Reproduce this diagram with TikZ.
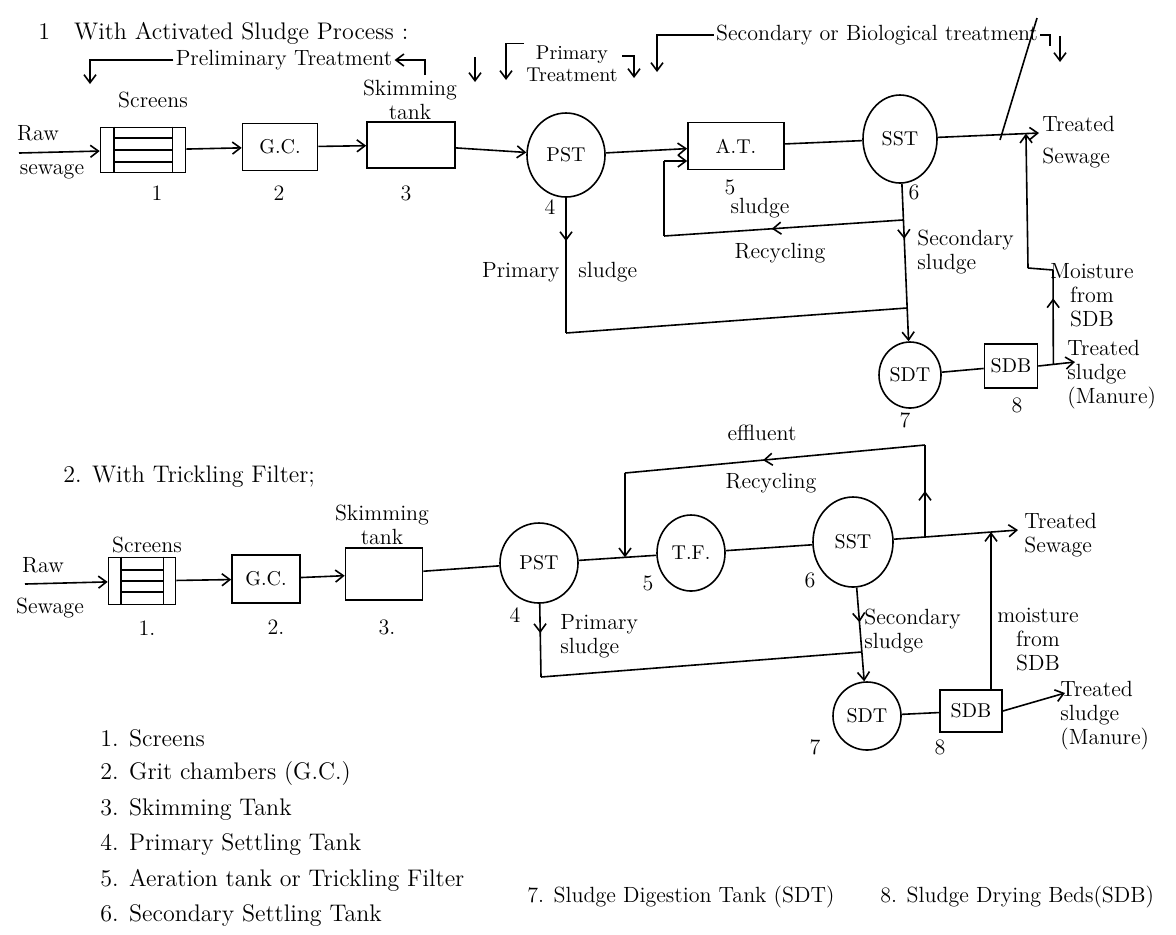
\documentclass[tikz,border=0pt]{standalone}
\usepackage{tikz}
\usetikzlibrary{arrows.meta,calc,positioning,shapes.geometric,decorations.markings}
\tikzset{
  swbox/.style={draw, line width=0.8pt, inner sep=1pt, font=\fontsize{10}{11}\selectfont},
  swtank/.style={draw, ellipse, line width=0.8pt, inner sep=0pt, font=\fontsize{10}{11}\selectfont},
  swtext/.style={inner sep=1pt, align=center, font=\fontsize{11}{12}\selectfont},
  swtitle/.style={inner sep=1pt, anchor=west, font=\fontsize{12}{14}\selectfont},
  swlegend/.style={inner sep=1pt, anchor=west, font=\fontsize{11}{12}\selectfont},
  swline/.style={line width=0.8pt},
  swarrow/.style={-{Straight Barb[length=4pt,width=6pt]}, line width=0.8pt},
  swmid/.style={postaction={decorate}, decoration={markings, mark=at position #1 with {\arrow{Straight Barb[length=4pt,width=6pt]}}}}
}
\begin{document}
\begin{tikzpicture}[x=0.5pt,y=-0.5pt]
  \useasboundingbox (0,0) rectangle (1176,934);
  % 1. activated sludge process
  \node[swtitle] (t1) at (36,33) {1\quad With Activated Sludge Process :};
  \node[swtext] (prel) at (284,60) {Preliminary Treatment};
  \coordinate (prelLd) at (90,84);
  \coordinate (prelRd) at (425,75);
  \coordinate (prelEa) at (475,57);
  \coordinate (prelEb) at (475,82);
  \draw[swarrow] (prel.west) -| (prelLd);
  \draw[swarrow] (prelRd) |- (prel.east);
  \draw[swarrow] (prelEa) -- (prelEb);
  \node[swtext, font=\fontsize{10}{11}\selectfont] (prim) at (572,64) {Primary\\Treatment};
  \coordinate (primLd) at (506,80);
  \coordinate (primRt) at (622,56);
  \coordinate (primRd) at (634,78);
  \draw[swarrow] (prim.north west) -| (primLd);
  \draw[swarrow] (primRt) -| (primRd);
  \node[swtext] (secn) at (877,35) {Secondary or Biological treatment};
  \coordinate (secLd) at (657,72);
  \coordinate (secRb) at (1050,46);
  \coordinate (secEa) at (1060,36);
  \coordinate (secEb) at (1060,62);
  \draw[swarrow] (secn.west) -| (secLd);
  \draw[swline] (secn.east) -| (secRb);
  \draw[swarrow] (secEa) -- (secEb);
  \coordinate (diagA) at (1037,18);
  \coordinate (diagB) at (1000,140);
  \draw[swline] (diagA) -- (diagB);

  \node[swbox, minimum width=42.5pt, minimum height=22.5pt] (scr1) at (143,150) {};
  \node[swbox, minimum width=37.5pt, minimum height=23.5pt] (gc1) at (280,147) {G.C.};
  \node[swbox, minimum width=44pt, minimum height=23pt] (sk1) at (411,145) {};
  \node[swtank, minimum width=39pt, minimum height=42pt] (pst1) at (566,155) {PST};
  \node[swbox, minimum width=48pt, minimum height=23.5pt] (at1) at (736,146) {A.T.};
  \node[swtank, minimum width=37pt, minimum height=44pt] (sst1) at (900,139) {SST};
  \node[swtank, minimum width=31pt, minimum height=33pt] (sdt1) at (910,375) {SDT};
  \node[swbox, minimum width=26.5pt, minimum height=22pt] (sdb1) at (1011,366) {SDB};

  \node[swtext] (raw1) at (38,133) {Raw};
  \node[swtext] (sew1) at (52,172) {sewage};
  \node[swtext] (scrl1) at (153,100) {Screens};
  \node[swtext] (skl1) at (410,100) {Skimming\\tank};
  \node[swtext] (n1a) at (157,193) {1};
  \node[swtext] (n2a) at (279,193) {2};
  \node[swtext] (n3a) at (406,193) {3};
  \node[swtext] (n4a) at (550,207) {4};
  \node[swtext] (n5a) at (730,187) {5};
  \node[swtext] (n6a) at (914,192) {6};
  \node[swtext] (n7a) at (905,420) {7};
  \node[swtext] (n8a) at (1017,405) {8};
  \node[swtext, anchor=west, align=left] (ts1l) at (1040,142) {Treated\\[4pt]Sewage};
  \node[swtext] (rcl1) at (760,208) {sludge};
  \node[swtext] (rcr1) at (780,253) {Recycling};
  \node[swtext, anchor=east] (psl1) at (562,272) {Primary};
  \node[swtext, anchor=west] (psr1) at (576,272) {sludge};
  \node[swtext, anchor=west, align=left] (ssl1) at (915,252) {Secondary\\sludge};
  \node[swtext] (mol1) at (1092,295) {Moisture\\from\\SDB};
  \node[swtext, anchor=west, align=left] (tsg1) at (1065,375) {Treated\\sludge\\(Manure)};

  \foreach \s in {scr1} {
    \draw[swline] ($(\s.north west)+(14,0)$) -- ($(\s.south west)+(14,0)$);
    \draw[swline] ($(\s.north east)+(-14,0)$) -- ($(\s.south east)+(-14,0)$);
    \foreach \dy in {-12,0,12}
      \draw[swline] ($(\s.west)+(14,\dy)$) -- ($(\s.east)+(-14,\dy)$);
  }

  \coordinate (in1) at (19,153);
  \coordinate (ts1) at (1039,133);
  \coordinate (tsl1) at (1075,362);
  \draw[swarrow] (in1) -- (scr1);
  \draw[swarrow] (scr1) -- (gc1);
  \draw[swarrow] (gc1) -- (sk1);
  \draw[swarrow] (sk1) -- (pst1);
  \draw[swarrow] (pst1) -- (at1);
  \draw[swline] (at1) -- (sst1);
  \draw[swarrow] (sst1) -- (ts1);
  \draw[swarrow, swmid=0.35] (sst1) -- (sdt1);
  % sludge recycling
  \coordinate (rcj1) at ($(sst1)!0.343!(sdt1)$);
  \coordinate (rc1b) at (664,236);
  \coordinate (rc1c) at (664,161);
  \draw[swline, swmid=0.55] (rcj1) -- (rc1b);
  \draw[swline] (rc1b) -- (rc1c);
  \draw[swarrow] (rc1c) -- (rc1c -| at1.west);
  % primary sludge
  \coordinate (ps1c) at (566,333);
  \coordinate (sj1) at ($(sst1)!0.716!(sdt1)$);
  \draw[swline, swmid=0.32] (pst1) -- (ps1c);
  \draw[swline] (ps1c) -- (sj1);
  \draw[swline] (sdt1) -- (sdb1);
  \draw[swarrow] (sdb1.east) -- (tsl1);
  % moisture
  \coordinate (mo1s) at ($(sdb1.east)!0.41!(tsl1)$);
  \coordinate (mo1a) at (1053,270);
  \coordinate (mo1b) at (1028,268);
  \coordinate (mo1t) at ($(sst1)!0.906!(ts1)$);
  \draw[swline, swmid=0.7] (mo1s) -- (mo1a);
  \draw[swline] (mo1a) -- (mo1b);
  \draw[swarrow] (mo1b) -- (mo1t);

  % 2. trickling filter
  \node[swtitle] (t2) at (61,477) {2. With Trickling Filter;};
  \node[swbox, minimum width=33.5pt, minimum height=23.5pt] (scr2) at (142,581) {};
  \node[swbox, minimum width=34pt, minimum height=24pt] (gc2) at (266,579) {G.C.};
  \node[swbox, minimum width=38.5pt, minimum height=26pt] (sk2) at (384,574) {};
  \node[swtank, minimum width=39pt, minimum height=40pt] (pst2) at (539,563) {PST};
  \node[swtank, minimum width=34pt, minimum height=38pt] (tf2) at (691,553) {T.F.};
  \node[swtank, minimum width=40pt, minimum height=45pt] (sst2) at (853,542) {SST};
  \node[swtank, minimum width=34pt, minimum height=34pt] (sdt2) at (867,716) {SDT};
  \node[swbox, minimum width=31pt, minimum height=21pt] (sdb2) at (971,711) {SDB};

  \node[swtext] (raw2) at (43,565) {Raw};
  \node[swtext] (sew2) at (50,608) {Sewage};
  \node[swtext] (scrl2) at (147,545) {Screens};
  \node[swtext] (skl2) at (382,525) {Skimming\\tank};
  \node[swtext] (n1b) at (147,628) {1.};
  \node[swtext] (n2b) at (276,627) {2.};
  \node[swtext] (n3b) at (387,627) {3.};
  \node[swtext] (n4b) at (515,615) {4};
  \node[swtext] (n5b) at (648,583) {5};
  \node[swtext] (n6b) at (810,580) {6};
  \node[swtext] (n7b) at (815,747) {7};
  \node[swtext] (n8b) at (940,747) {8};
  \node[swtext] (effl2) at (762,433) {effluent};
  \node[swtext] (rcr2) at (771,483) {Recycling};
  \node[swtext, anchor=west, align=left] (ts2l) at (1022,535) {Treated\\Sewage};
  \node[swtext, anchor=west, align=left] (psl2) at (558,636) {Primary\\sludge};
  \node[swtext, anchor=west, align=left] (ssl2) at (862,631) {Secondary\\sludge};
  \node[swtext] (mol2) at (1038,640) {moisture\\from\\SDB};
  \node[swtext, anchor=west, align=left] (tsg2) at (1058,716) {Treated\\sludge\\(Manure)};

  \foreach \s in {scr2} {
    \draw[swline] ($(\s.north west)+(13,0)$) -- ($(\s.south west)+(13,0)$);
    \draw[swline] ($(\s.north east)+(-13,0)$) -- ($(\s.south east)+(-13,0)$);
    \foreach \dy in {-11,0,11}
      \draw[swline] ($(\s.west)+(13,\dy)$) -- ($(\s.east)+(-13,\dy)$);
  }

  \coordinate (in2) at (25,584);
  \coordinate (jn2) at (925,537);
  \coordinate (ts2) at (1018,530);
  \coordinate (tsl2) at (1065,693);
  \draw[swarrow] (in2) -- (scr2);
  \draw[swarrow] (scr2) -- (gc2);
  \draw[swarrow] (gc2) -- (sk2);
  \draw[swline] (sk2) -- (pst2);
  \draw[swline] (pst2) -- (tf2);
  \draw[swline] (tf2) -- (sst2);
  \draw[swline] (sst2) -- (jn2);
  \draw[swarrow] (jn2) -- (ts2);
  % effluent recycling
  \coordinate (er2a) at (925,445);
  \coordinate (er2b) at (625,473);
  \coordinate (er2c) at ($(pst2)!0.566!(tf2)$);
  \draw[swline, swmid=0.5] (jn2) -- (er2a);
  \draw[swline, swmid=0.54] (er2a) -- (er2b);
  \draw[swarrow] (er2b) -- (er2c);
  \draw[swarrow, swmid=0.37] (sst2) -- (sdt2);
  % primary sludge
  \coordinate (ps2c) at (541,677);
  \coordinate (sj2) at ($(sst2)!0.632!(sdt2)$);
  \draw[swline, swmid=0.4] (pst2) -- (ps2c);
  \draw[swline] (ps2c) -- (sj2);
  \draw[swline] (sdt2) -- (sdb2);
  \draw[swarrow] (sdb2.east) -- (tsl2);
  % moisture
  \coordinate (mo2) at ($(jn2)!0.71!(ts2)$);
  \draw[swarrow] (mo2 |- sdb2.north) -- (mo2);

  % legend
  \foreach \t [count=\k] in {Screens, Grit chambers (G.C.), Skimming Tank, Primary Settling Tank, Aeration tank or Trickling Filter, Secondary Settling Tank}
    \node[swlegend, font=\fontsize{12}{13}\selectfont] (lg\k) at (98,{738+35.5*(\k-1)}) {\k. \t};
  \node[swlegend] (lg7) at (525,897) {7. Sludge Digestion Tank (SDT)};
  \node[swlegend] (lg8) at (878,897) {8. Sludge Drying Beds(SDB)};
\end{tikzpicture}
\end{document}
